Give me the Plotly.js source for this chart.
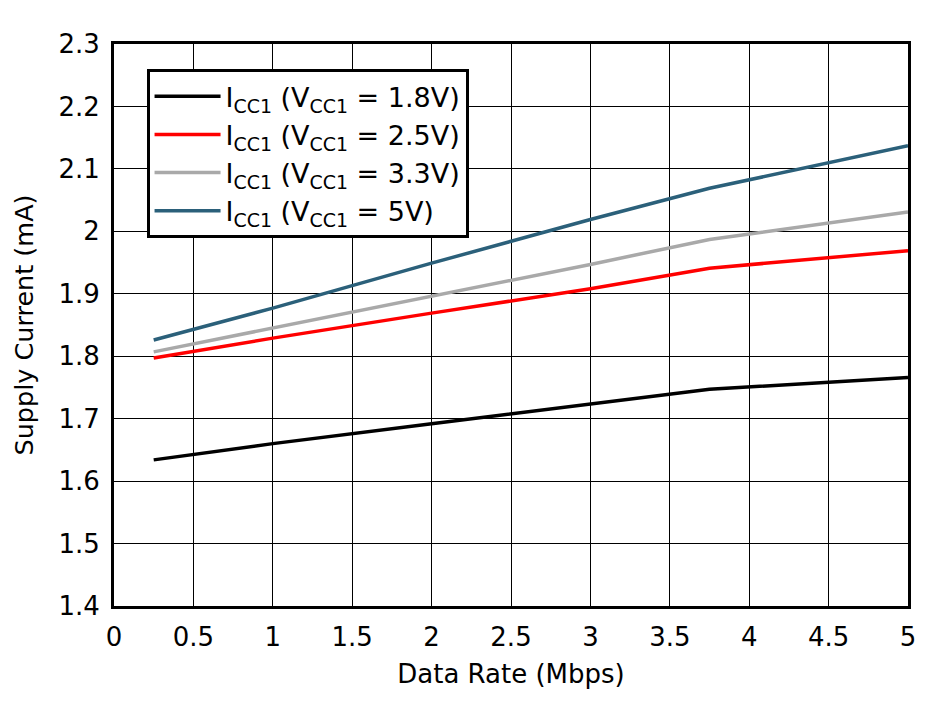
<!DOCTYPE html>
<html><head><meta charset="utf-8">
<script src="https://cdn.plot.ly/plotly-3.0.1.min.js"></script>
<style>html,body{margin:0;padding:0;background:#fff}#c{width:940px;height:701px}</style>
</head><body><div id="c"></div>
<script>
const dataRate = [0.25, 1, 2, 3, 3.75, 5];
const icc18 = [1.634, 1.660, 1.692, 1.724, 1.747, 1.766];
const icc25 = [1.797, 1.829, 1.869, 1.908, 1.941, 1.969];
const icc33 = [1.807, 1.845, 1.895, 1.947, 1.987, 2.031];
const icc50 = [1.826, 1.877, 1.949, 2.019, 2.069, 2.137];
const names = ['I<sub>CC1</sub> (V<sub>CC1</sub> = 1.8V)','I<sub>CC1</sub> (V<sub>CC1</sub> = 2.5V)','I<sub>CC1</sub> (V<sub>CC1</sub> = 3.3V)','I<sub>CC1</sub> (V<sub>CC1</sub> = 5V)'];
const colors = ['#000000','#ff0000','#a9a9a9','#2b607a'];
const ys = [icc18, icc25, icc33, icc50];
const traces = ys.map((y,i)=>({x:dataRate,y:y,name:names[i],mode:'lines',type:'scatter',line:{color:colors[i],width:3.5}}));
const F = 'DejaVu Sans, Liberation Sans, Arial, sans-serif';
const layout = {
  width:940,height:701,
  margin:{l:114,r:32,t:44,b:95},
  paper_bgcolor:'#fff',plot_bgcolor:'#fff',
  font:{family:F,color:'#000',size:26},
  xaxis:{range:[0,5],dtick:0.5,tick0:0,showgrid:true,gridcolor:'#000',gridwidth:1,zeroline:false,
    showline:true,linecolor:'#000',linewidth:3,mirror:true,ticks:'',ticklabelstandoff:6,
    tickfont:{family:F,size:26},
    title:{text:'Data Rate (Mbps)',font:{family:F,size:26},standoff:14}},
  yaxis:{range:[1.4,2.3],dtick:0.1,tick0:1.4,showgrid:true,gridcolor:'#000',gridwidth:1,zeroline:false,
    showline:true,linecolor:'#000',linewidth:3,mirror:true,ticks:'',ticklabelstandoff:6,
    tickfont:{family:F,size:26},
    title:{text:'Supply Current (mA)',font:{family:F,size:25.5},standoff:18}},
  legend:{x:0.041,y:0.955,xanchor:'left',yanchor:'top',bgcolor:'#fff',bordercolor:'#000',borderwidth:3,
    font:{family:F,size:27},tracegroupgap:0,itemwidth:66},
  showlegend:true
};
Plotly.newPlot('c',traces,layout,{displayModeBar:false,staticPlot:true});
</script></body></html>
